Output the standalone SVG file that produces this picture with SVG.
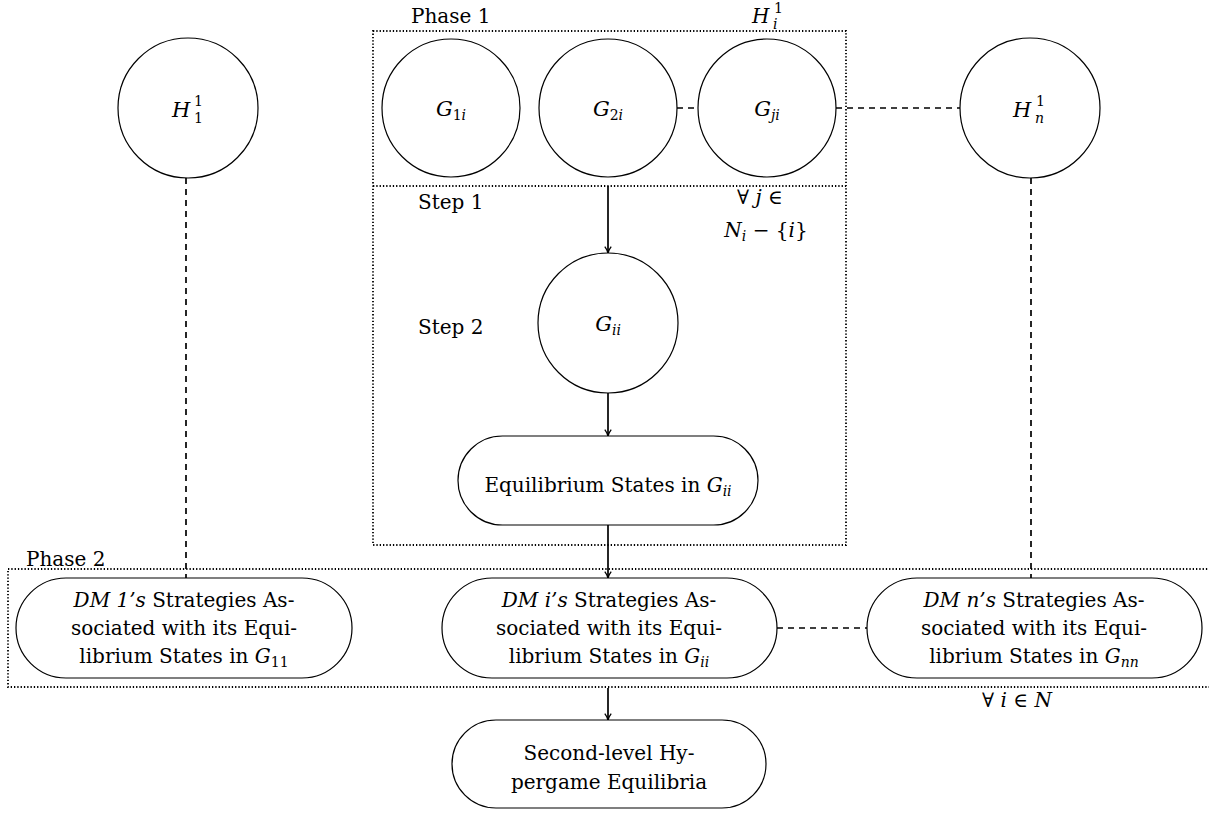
<svg xmlns="http://www.w3.org/2000/svg" width="1209" height="822" viewBox="0 0 1209 822">
<defs>
<style>
.t{font-family:"DejaVu Serif","Liberation Serif",serif;font-size:20px;fill:#000}
.m{font-style:italic}
.g{font-size:21px}
.s{font-size:14px}
.nd{fill:#fff;stroke:#000;stroke-width:1.2}
.dot{fill:none;stroke:#000;stroke-width:1.8;stroke-dasharray:1.3 2}
.dash{fill:none;stroke:#000;stroke-width:1.7;stroke-dasharray:6 5}
.arr{fill:none;stroke:#000;stroke-width:1.7;marker-end:url(#ah)}
</style>
<marker id="ah" viewBox="0 0 10 10" refX="9" refY="5" markerWidth="8" markerHeight="8" markerUnits="userSpaceOnUse" orient="auto">
<path d="M1,1 Q5,4 9,5 Q5,6 1,9" fill="none" stroke="#000" stroke-width="1.6"/>
</marker>
</defs>

<g id="frames">
<rect class="dot" x="373" y="31" width="473" height="514"/>
<line class="dot" x1="373" y1="186" x2="846" y2="186"/>
<rect class="dot" x="8" y="569" width="1230" height="118"/>
<text class="t" x="411" y="23">Phase 1</text>
<text class="t" x="26" y="566">Phase 2</text>
<text class="t" x="418" y="209">Step 1</text>
<text class="t" x="418" y="334">Step 2</text>
<text class="t m" x="752" y="23">H</text>
<text class="t s" x="774" y="13">1</text>
<text class="t s m" x="773" y="29">i</text>
<text class="t" x="760" y="204" text-anchor="middle">∀ <tspan class="m">j</tspan> ∈</text>
<text class="t" x="766" y="237" text-anchor="middle"><tspan class="m">N</tspan><tspan class="s m" dy="4">i</tspan><tspan dy="-4"> − {</tspan><tspan class="m">i</tspan>}</text>
<text class="t" x="1017" y="707" text-anchor="middle">∀ <tspan class="m">i</tspan> ∈ <tspan class="m">N</tspan></text>
</g>

<g id="connectors">
<line class="dash" x1="677" y1="108" x2="698" y2="108"/>
<line class="dash" x1="836" y1="108" x2="960" y2="108"/>
<line class="dash" x1="186" y1="178" x2="186" y2="578"/>
<line class="dash" x1="1031" y1="178" x2="1031" y2="578"/>
<line class="dash" x1="777" y1="628" x2="867" y2="628"/>
<line class="arr" x1="608" y1="186" x2="608" y2="253"/>
<line class="arr" x1="608" y1="393" x2="608" y2="436"/>
<line class="arr" x1="608" y1="525" x2="608" y2="578"/>
<line class="arr" x1="608" y1="688" x2="608" y2="720"/>
</g>

<g id="H11">
<circle class="nd" cx="188" cy="108" r="70"/>
<text class="t g m" x="172" y="117">H</text>
<text class="t s" x="194" y="106">1</text>
<text class="t s" x="194" y="123">1</text>
</g>

<g id="G1i">
<circle class="nd" cx="451" cy="108" r="69"/>
<text class="t g" x="451" y="116" text-anchor="middle"><tspan class="m">G</tspan><tspan class="s" dy="4">1</tspan><tspan class="s m">i</tspan></text>
</g>

<g id="G2i">
<circle class="nd" cx="608" cy="108" r="69"/>
<text class="t g" x="608" y="116" text-anchor="middle"><tspan class="m">G</tspan><tspan class="s" dy="4">2</tspan><tspan class="s m">i</tspan></text>
</g>

<g id="Gji">
<circle class="nd" cx="767" cy="108" r="69"/>
<text class="t g" x="767" y="116" text-anchor="middle"><tspan class="m">G</tspan><tspan class="s m" dy="4">ji</tspan></text>
</g>

<g id="Hn1">
<circle class="nd" cx="1030" cy="108" r="70"/>
<text class="t g m" x="1013" y="117">H</text>
<text class="t s" x="1036" y="106">1</text>
<text class="t s m" x="1035" y="123">n</text>
</g>

<g id="Gii">
<circle class="nd" cx="608" cy="323" r="70"/>
<text class="t g" x="608" y="331" text-anchor="middle"><tspan class="m">G</tspan><tspan class="s m" dy="4">ii</tspan></text>
</g>

<g id="EqGii">
<rect class="nd" x="458" y="436" width="300" height="89" rx="44.5"/>
<text class="t" x="608" y="492" text-anchor="middle">Equilibrium States in <tspan class="m">G</tspan><tspan class="s m" dy="4">ii</tspan></text>
</g>

<g id="DM1">
<rect class="nd" x="16" y="578" width="336" height="100" rx="50"/>
<text class="t" x="184" y="607" text-anchor="middle"><tspan class="m">DM 1’s</tspan> Strategies As-</text>
<text class="t" x="184" y="635" text-anchor="middle">sociated with its Equi-</text>
<text class="t" x="184" y="663" text-anchor="middle">librium States in <tspan class="m">G</tspan><tspan class="s" dy="4">11</tspan></text>
</g>

<g id="DMi">
<rect class="nd" x="442" y="578" width="335" height="100" rx="50"/>
<text class="t" x="609" y="607" text-anchor="middle"><tspan class="m">DM i’s</tspan> Strategies As-</text>
<text class="t" x="609" y="635" text-anchor="middle">sociated with its Equi-</text>
<text class="t" x="609" y="663" text-anchor="middle">librium States in <tspan class="m">G</tspan><tspan class="s m" dy="4">ii</tspan></text>
</g>

<g id="DMn">
<rect class="nd" x="867" y="578" width="335" height="100" rx="50"/>
<text class="t" x="1034" y="607" text-anchor="middle"><tspan class="m">DM n’s</tspan> Strategies As-</text>
<text class="t" x="1034" y="635" text-anchor="middle">sociated with its Equi-</text>
<text class="t" x="1034" y="663" text-anchor="middle">librium States in <tspan class="m">G</tspan><tspan class="s m" dy="4">nn</tspan></text>
</g>

<g id="SLHE">
<rect class="nd" x="452" y="720" width="314" height="88" rx="44"/>
<text class="t" x="609" y="760" text-anchor="middle">Second-level Hy-</text>
<text class="t" x="609" y="789" text-anchor="middle">pergame Equilibria</text>
</g>
</svg>
